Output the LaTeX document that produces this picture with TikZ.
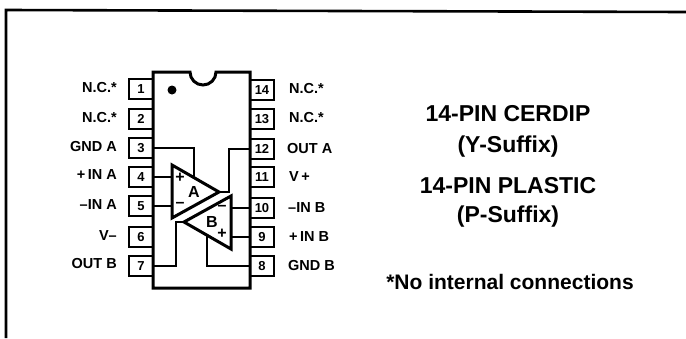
\documentclass[tikz,border=0pt]{standalone}
\usepackage{fontspec}
\setmainfont{Liberation Sans}
\begin{document}
\begin{tikzpicture}[x=1pt,y=-1pt]
  \tikzstyle{PinStyle}=[draw,line width=1.8pt,minimum width=24pt,minimum height=20pt,
    inner sep=0pt,font=\fontsize{13}{15}\selectfont\bfseries]
  \tikzstyle{LeftStyle}=[anchor=east,inner sep=0pt,font=\fontsize{14.5}{16}\selectfont\bfseries]
  \tikzstyle{RightStyle}=[anchor=west,inner sep=0pt,font=\fontsize{14.5}{16}\selectfont\bfseries]
  \tikzstyle{TitleStyle}=[inner sep=0pt,font=\fontsize{23}{26}\selectfont\bfseries]
  \tikzstyle{MarkStyle}=[inner sep=0pt,font=\fontsize{16}{18}\selectfont\bfseries]
  \tikzstyle{WireStyle}=[line width=1.2pt]
  \tikzstyle{AmpStyle}=[line width=3pt,line join=miter]
  \useasboundingbox (0,0) rectangle (686,338);
  % frame, open on the right and at the bottom
  \coordinate (FrameA) at (6,338);
  \coordinate (FrameB) at (6,10);
  \coordinate (FrameC) at (686,12);
  \draw[line width=2.6pt] (FrameA) -- (FrameB) -- (FrameC);
  % pins
  \node[PinStyle] (P1) at (141,89) {1};
  \node[PinStyle] (P2) at (141,119) {2};
  \node[PinStyle] (P3) at (141,148) {3};
  \node[PinStyle] (P4) at (141,177) {4};
  \node[PinStyle] (P5) at (141,206) {5};
  \node[PinStyle] (P6) at (141,237) {6};
  \node[PinStyle] (P7) at (141,266) {7};
  \node[PinStyle] (P8) at (262,266) {8};
  \node[PinStyle] (P9) at (262,237) {9};
  \node[PinStyle] (P10) at (262,208) {10};
  \node[PinStyle] (P11) at (262,177) {11};
  \node[PinStyle] (P12) at (262,149) {12};
  \node[PinStyle] (P13) at (262,119) {13};
  \node[PinStyle] (P14) at (262,90) {14};
  % package
  \draw[line width=3pt,fill=white] (153,72) -- (190,72)
    arc[start angle=180,end angle=360,x radius=13,y radius=-13] -- (250,72)
    -- (250,288) -- (153,288) -- cycle;
  \fill (172,90) circle (4.5);
  % amplifiers
  \coordinate (Aa) at (172,165);
  \coordinate (Ab) at (172,218);
  \coordinate (Ac) at (219,192);
  \coordinate (Ad) at (194,178);
  \coordinate (Ba) at (231,196);
  \coordinate (Bb) at (231,249);
  \coordinate (Bc) at (184,222);
  \coordinate (Bd) at (207,235);
  \coordinate (WireA) at (229,192);
  \coordinate (WireB) at (176,222);
  \draw[WireStyle] (P3.east) -| (Ad);
  \draw[WireStyle] (P4.east) -- (172,177);
  \draw[WireStyle] (P5.east) -- (172,206);
  \draw[WireStyle] (P12.west) -| (WireA) -- (Ac);
  \draw[WireStyle] (P10.west) -- (231,208);
  \draw[WireStyle] (P9.west) -- (231,237);
  \draw[WireStyle] (P8.west) -| (Bd);
  \draw[WireStyle] (P7.east) -| (WireB) -- (Bc);
  \draw[AmpStyle] (Aa) -- (Ab) -- (Ac) -- cycle;
  \draw[AmpStyle] (Ba) -- (Bb) -- (Bc) -- cycle;
  \node[MarkStyle] (LabelA) at (194,192) {A};
  \node[MarkStyle] (LabelB) at (212,222) {B};
  \node[MarkStyle] (PlusA) at (180,178) {+};
  \node[MarkStyle] (MinusA) at (180,205) {--};
  \node[MarkStyle] (MinusB) at (222,208) {--};
  \node[MarkStyle] (PlusB) at (222,234) {+};
  % pin names
  \node[LeftStyle] (L1) at (117,88) {N.C.*};
  \node[LeftStyle] (L2) at (117,118) {N.C.*};
  \node[LeftStyle] (L3) at (117,147) {GND A};
  \node[LeftStyle] (L4) at (117,175) {+\,IN A};
  \node[LeftStyle] (L5) at (117,205) {--IN A};
  \node[LeftStyle] (L6) at (117,236) {V--};
  \node[LeftStyle] (L7) at (117,264) {OUT B};
  \node[RightStyle] (R14) at (289,89) {N.C.*};
  \node[RightStyle] (R13) at (289,118) {N.C.*};
  \node[RightStyle] (R12) at (287,149) {OUT A};
  \node[RightStyle] (R11) at (289,177) {V\,+};
  \node[RightStyle] (R10) at (288,208) {--IN B};
  \node[RightStyle] (R9) at (289,237) {+\,IN B};
  \node[RightStyle] (R8) at (288,266) {GND B};
  % titles
  \node[TitleStyle] (T1) at (508,114) {14-PIN CERDIP};
  \node[TitleStyle] (T2) at (508,147) {(Y-Suffix)};
  \node[TitleStyle] (T3) at (508,186) {14-PIN PLASTIC};
  \node[TitleStyle] (T4) at (508,217) {(P-Suffix)};
  \node[inner sep=0pt,font=\fontsize{21}{24}\selectfont\bfseries] (T5) at (510,282) {*No internal connections};
\end{tikzpicture}
\end{document}
